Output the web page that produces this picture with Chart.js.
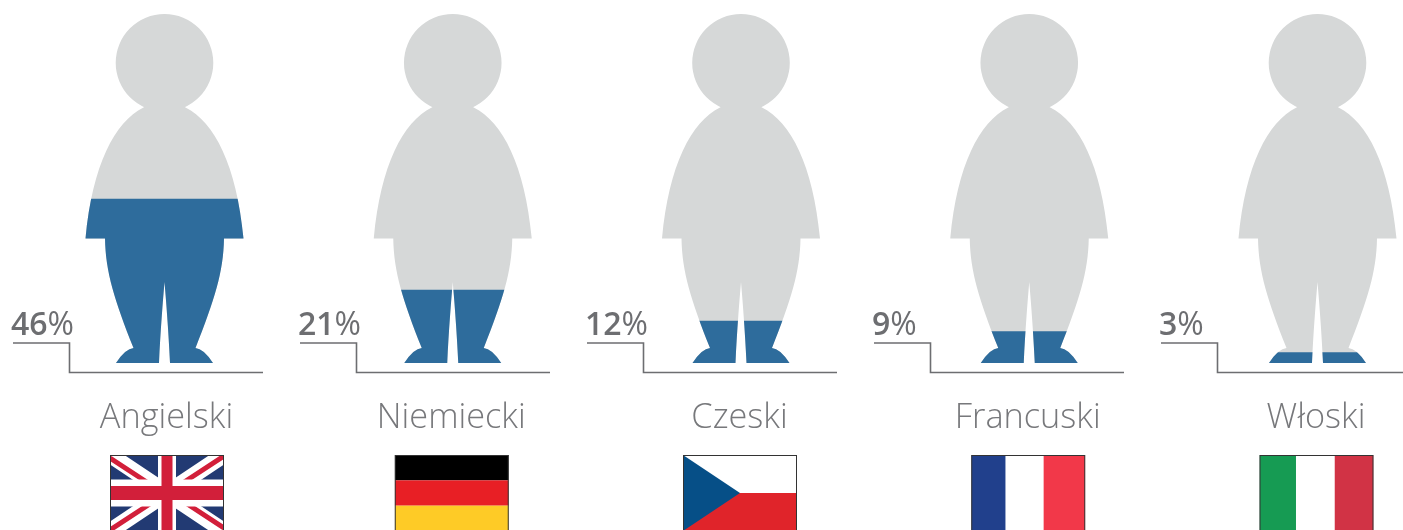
<!DOCTYPE html>
<html lang="pl">
<head>
    <meta charset="UTF-8">
    <title>Języki obce</title>
    <script src="https://cdn.jsdelivr.net/npm/chart.js"></script>
    <style>
        body, html { margin: 0; background: #fff; }
        #wrap { width: 1403px; height: 530px; overflow: hidden; }
    </style>
</head>
<body>
    <div id="wrap"><canvas id="chart" width="1403" height="530"></canvas></div>

    <script>
        var languages = ['Angielski', 'Niemiecki', 'Czeski', 'Francuski', 'Włoski'];
        var shareLabels = ['46', '21', '12', '9', '3'];
        // fill height as drawn in the picture, the first one sits a bit above its label
        var fillLevels = [47, 20.9, 12, 9, 3];
        var figureFull = [100, 100, 100, 100, 100];
        var flags = ['uk', 'de', 'cz', 'fr', 'it'];

        var BLUE = '#2e6c9c';
        var GREY = '#d6d8d8';
        var TEXT = '#6d6e71';

        // outline of the figure, in px from the feet centre at the design height of 349
        function figurePath(ctx, cx, y0, k) {
            function X(v) { return cx + v * k; }
            function Y(v) { return y0 - v * k; }
            ctx.moveTo(X(-8), Y(268));
            ctx.lineTo(X(-21), Y(255.5));
            ctx.bezierCurveTo(X(-50), Y(241), X(-72), Y(198), X(-79), Y(124.5));
            ctx.lineTo(X(-59.5), Y(124.5));
            ctx.bezierCurveTo(X(-59), Y(91), X(-50), Y(63), X(-31), Y(15));
            ctx.quadraticCurveTo(X(-39), Y(14.5), X(-48.5), Y(0));
            ctx.lineTo(X(-5.5), Y(0));
            ctx.bezierCurveTo(X(-4), Y(33), X(-1.5), Y(63), X(0), Y(81));
            ctx.bezierCurveTo(X(1.5), Y(63), X(4), Y(33), X(5.5), Y(0));
            ctx.lineTo(X(48.5), Y(0));
            ctx.quadraticCurveTo(X(39), Y(14.5), X(31), Y(15));
            ctx.bezierCurveTo(X(50), Y(63), X(59), Y(91), X(59.5), Y(124.5));
            ctx.lineTo(X(79), Y(124.5));
            ctx.bezierCurveTo(X(72), Y(198), X(50), Y(241), X(21), Y(255.5));
            ctx.lineTo(X(8), Y(268));
            ctx.closePath();
            ctx.moveTo(X(48.8), Y(300.2));
            ctx.arc(X(0), Y(300.2), 48.8 * k, 0, Math.PI * 2, true);
            ctx.closePath();
        }

        // bars are cut to the figure outline
        var figureClip = {
            id: 'figureClip',
            beforeDatasetsDraw: function(chart) {
                var ctx = chart.ctx;
                var x = chart.scales.x;
                var y = chart.scales.y;
                var y0 = y.getPixelForValue(0);
                var k = (y0 - y.getPixelForValue(100)) / 349;
                ctx.save();
                ctx.beginPath();
                languages.forEach(function(_, i) {
                    figurePath(ctx, x.getPixelForValue(i), y0, k);
                });
                ctx.clip();
            },
            afterDatasetsDraw: function(chart) {
                chart.ctx.restore();
            }
        };

        function drawFlag(ctx, name, l, t, w, h) {
            ctx.save();
            ctx.beginPath();
            ctx.rect(l, t, w, h);
            ctx.clip();
            ctx.fillStyle = '#fff';
            ctx.fillRect(l, t, w, h);
            if (name === 'uk') {
                var cx = l + w / 2, cy = t + h / 2;
                ctx.fillStyle = '#223a73';
                ctx.fillRect(l, t, w, h);
                ctx.strokeStyle = '#fff';
                ctx.lineWidth = 16;
                ctx.beginPath();
                ctx.moveTo(l, t); ctx.lineTo(l + w, t + h);
                ctx.moveTo(l + w, t); ctx.lineTo(l, t + h);
                ctx.stroke();
                ctx.strokeStyle = '#d21f3a';
                ctx.lineWidth = 5;
                ctx.beginPath();
                ctx.moveTo(l, t + 3); ctx.lineTo(cx - 2, cy + 1);
                ctx.moveTo(l + w, t + 1); ctx.lineTo(cx + 2, cy - 1);
                ctx.moveTo(l + w, t + h - 3); ctx.lineTo(cx + 2, cy - 1);
                ctx.moveTo(l, t + h - 1); ctx.lineTo(cx - 2, cy + 1);
                ctx.stroke();
                ctx.fillStyle = '#fff';
                ctx.fillRect(cx - 9, t, 18, h);
                ctx.fillRect(l, cy - 13.5, w, 27);
                ctx.fillStyle = '#d21f3a';
                ctx.fillRect(cx - 5.5, t, 11, h);
                ctx.fillRect(l, cy - 7, w, 14);
            } else if (name === 'de') {
                ctx.fillStyle = '#000';
                ctx.fillRect(l, t, w, h / 3);
                ctx.fillStyle = '#e81f25';
                ctx.fillRect(l, t + h / 3, w, h / 3);
                ctx.fillStyle = '#fecb26';
                ctx.fillRect(l, t + 2 * h / 3, w, h / 3);
            } else if (name === 'cz') {
                ctx.fillStyle = '#e0242a';
                ctx.fillRect(l, t + h / 2, w, h / 2);
                ctx.fillStyle = '#064f87';
                ctx.beginPath();
                ctx.moveTo(l, t); ctx.lineTo(l + w / 2, t + h / 2); ctx.lineTo(l, t + h);
                ctx.closePath();
                ctx.fill();
            } else if (name === 'fr') {
                ctx.fillStyle = '#21408c';
                ctx.fillRect(l, t, w * 0.3, h);
                ctx.fillStyle = '#f23849';
                ctx.fillRect(l + w * 0.635, t, w * 0.365, h);
            } else if (name === 'it') {
                ctx.fillStyle = '#169b53';
                ctx.fillRect(l, t, w * 0.32, h);
                ctx.fillStyle = '#d13345';
                ctx.fillRect(l + w * 0.66, t, w * 0.34, h);
            }
            ctx.restore();
            ctx.strokeStyle = '#333';
            ctx.lineWidth = 1;
            ctx.strokeRect(l + 0.5, t + 0.5, w - 1, h);
        }

        // percent labels, stepped leader lines, language names and flags
        var annotations = {
            id: 'annotations',
            afterDraw: function(chart) {
                var ctx = chart.ctx;
                var x = chart.scales.x;
                var y0 = chart.scales.y.getPixelForValue(0);
                shareLabels.forEach(function(v, i) {
                    var cx = x.getPixelForValue(i);
                    var start = cx - 151.5 - 1.25 * i;

                    ctx.strokeStyle = TEXT;
                    ctx.lineWidth = 1.6;
                    ctx.beginPath();
                    ctx.moveTo(start, y0 - 20);
                    ctx.lineTo(start + 56.5, y0 - 20);
                    ctx.lineTo(start + 56.5, y0 + 9.5);
                    ctx.lineTo(Math.min(start + 250, 1403), y0 + 9.5);
                    ctx.stroke();

                    ctx.fillStyle = TEXT;
                    ctx.textAlign = 'left';
                    ctx.textBaseline = 'alphabetic';
                    var textX = cx - 153.5 - 1.25 * i;
                    ctx.font = '600 32px "Open Sans"';
                    ctx.fillText(v, textX, y0 - 28);
                    textX += ctx.measureText(v).width;
                    ctx.font = '400 32px "Open Sans"';
                    ctx.fillText('%', textX, y0 - 28);

                    ctx.fillStyle = '#77787b';
                    ctx.textAlign = 'center';
                    ctx.font = '300 34.3px "Open Sans"';
                    ctx.fillText(languages[i], cx + (i === 0 ? 2 : -1.5), y0 + 65);

                    drawFlag(ctx, flags[i], cx + (i === 0 ? 2.5 : -1) - 57, y0 + 92, 114, 76);
                });
            }
        };

        new Chart(document.getElementById('chart'), {
            type: 'bar',
            data: {
                labels: languages,
                datasets: [
                    { label: 'Udział', data: fillLevels, backgroundColor: BLUE, grouped: false, barThickness: 180, clip: false },
                    { label: 'Całość', data: figureFull, backgroundColor: GREY, grouped: false, barThickness: 180, clip: false }
                ]
            },
            options: {
                responsive: false,
                animation: false,
                layout: { padding: { left: 164.5, right: 85.5, top: 14, bottom: 167 } },
                plugins: { legend: { display: false }, tooltip: { enabled: false } },
                scales: {
                    x: { display: false, offset: false },
                    y: { display: false, min: 0, max: 100 }
                }
            },
            plugins: [figureClip, annotations]
        });
    </script>
</body>
</html>
